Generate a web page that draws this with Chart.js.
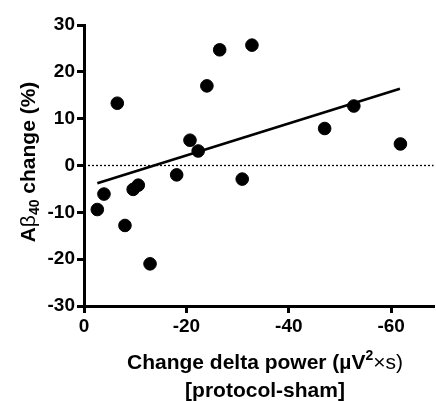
<!DOCTYPE html>
<html>
<head>
<meta charset="utf-8">
<script src="https://cdn.jsdelivr.net/npm/chart.js@4/dist/chart.umd.min.js"></script>
<style>
  html, body { margin: 0; padding: 0; background: #ffffff; overflow: hidden; }
  #wrap { position: relative; width: 436px; height: 401px; overflow: hidden; }
</style>
</head>
<body>
<div id="wrap"><canvas id="chart" width="441" height="401"></canvas></div>
<script>
// Change in delta power (protocol - sham)
var deltaPower = [-2.6, -3.9, -6.5, -8.0, -9.6, -10.6, -12.9, -18.1, -20.7, -22.3,
                  -24.0, -26.5, -30.9, -32.8, -47.0, -52.7, -61.8];
// A-beta 40 change (%)
var abetaChange = [-9.4, -6.1, 13.3, -12.8, -5.1, -4.2, -21.0, -2.0, 5.4, 3.1,
                   17.0, 24.7, -2.9, 25.7, 7.9, 12.7, 4.6];
// Regression line end points
var fitX = [-2.6, -61.7];
var fitY = [-3.8, 16.4];

var xTicks = [0, -20, -40, -60];
var yTicks = [-30, -20, -10, 0, 10, 20, 30];
var X_MIN = -68.3, X_MAX = 0;
var Y_MIN = -30, Y_MAX = 30;

var FONT = "'Liberation Sans', Arial, sans-serif";
var INK = '#000000';

function toPoints(xs, ys) {
    return xs.map(function (x, i) { return { x: x, y: ys[i] }; });
}

// Draws a line of text made of runs, some raised or lowered, centred at (cx, cy)
function drawRuns(ctx, runs, cx, cy, size) {
    var parts = runs.map(function (r) {
        var s = r.sub || r.sup ? Math.round(size * 0.66) : size;
        var f = (r.light ? '' : 'bold ') + s + 'px ' + FONT;
        ctx.font = f;
        return { t: r.t, f: f, w: ctx.measureText(r.t).width,
                 dy: r.sub ? size * 0.3 : (r.sup ? -size * 0.32 : 0) };
    });
    var total = parts.reduce(function (a, p) { return a + p.w; }, 0);
    var x = cx - total / 2;
    ctx.textBaseline = 'middle';
    ctx.textAlign = 'left';
    parts.forEach(function (p) {
        ctx.font = p.f;
        ctx.fillText(p.t, x, cy + p.dy);
        x += p.w;
    });
}

var axisTitles = {
    id: 'axisTitles',
    afterDraw: function (chart) {
        var ctx = chart.ctx;
        ctx.save();
        ctx.fillStyle = INK;
        drawRuns(ctx, [{ t: 'Change delta power (\u00b5V' }, { t: '2', sup: true }, { t: '\u00d7s)', light: true }], 265, 363, 21);
        drawRuns(ctx, [{ t: '[protocol-sham]' }], 265, 391, 21);
        ctx.translate(29, 162);
        ctx.rotate(-Math.PI / 2);
        drawRuns(ctx, [{ t: 'A' }, { t: '\u03b2', light: true }, { t: '40', sub: true }, { t: ' change (%)' }], 0, 0, 21);
        ctx.restore();
    }
};

new Chart(document.getElementById('chart').getContext('2d'), {
    type: 'scatter',
    data: {
        datasets: [
            {
                label: 'zero',
                type: 'line',
                data: toPoints([X_MAX, X_MIN], [0, 0]),
                borderColor: INK,
                borderWidth: 1.3,
                borderDash: [2, 2],
                pointRadius: 0,
                fill: false
            },
            {
                label: 'fit',
                type: 'line',
                data: toPoints(fitX, fitY),
                borderColor: INK,
                borderWidth: 2.6,
                pointRadius: 0,
                fill: false
            },
            {
                label: 'subjects',
                data: toPoints(deltaPower, abetaChange),
                backgroundColor: INK,
                borderColor: INK,
                pointRadius: 6.3,
                pointHoverRadius: 6.3
            }
        ]
    },
    options: {
        responsive: false,
        animation: false,
        layout: { padding: { top: 25, left: 0, right: 0, bottom: 0 } },
        scales: {
            x: {
                type: 'linear',
                reverse: true,
                min: X_MIN,
                max: X_MAX,
                afterBuildTicks: function (scale) {
                    scale.ticks = xTicks.map(function (v) { return { value: v }; });
                },
                afterFit: function (scale) {
                    scale.height = 95;
                },
                border: { display: true, color: INK, width: 3 },
                grid: { drawOnChartArea: false, drawTicks: true, tickLength: 7, color: INK, lineWidth: 3 },
                ticks: {
                    color: INK,
                    padding: 2,
                    font: { family: FONT, size: 19, weight: 'bold' },
                    callback: function (v) { return String(v); }
                }
            },
            y: {
                type: 'linear',
                min: Y_MIN,
                max: Y_MAX,
                afterBuildTicks: function (scale) {
                    scale.ticks = yTicks.map(function (v) { return { value: v }; });
                },
                afterFit: function (scale) {
                    scale.width = 84;
                },
                border: { display: true, color: INK, width: 3 },
                grid: { drawOnChartArea: false, drawTicks: true, tickLength: 7, color: INK, lineWidth: 3 },
                ticks: {
                    color: INK,
                    padding: 2,
                    font: { family: FONT, size: 19, weight: 'bold' },
                    callback: function (v) { return String(v); }
                }
            }
        },
        plugins: {
            legend: { display: false },
            tooltip: { enabled: false }
        }
    },
    plugins: [axisTitles]
});
</script>
</body>
</html>
